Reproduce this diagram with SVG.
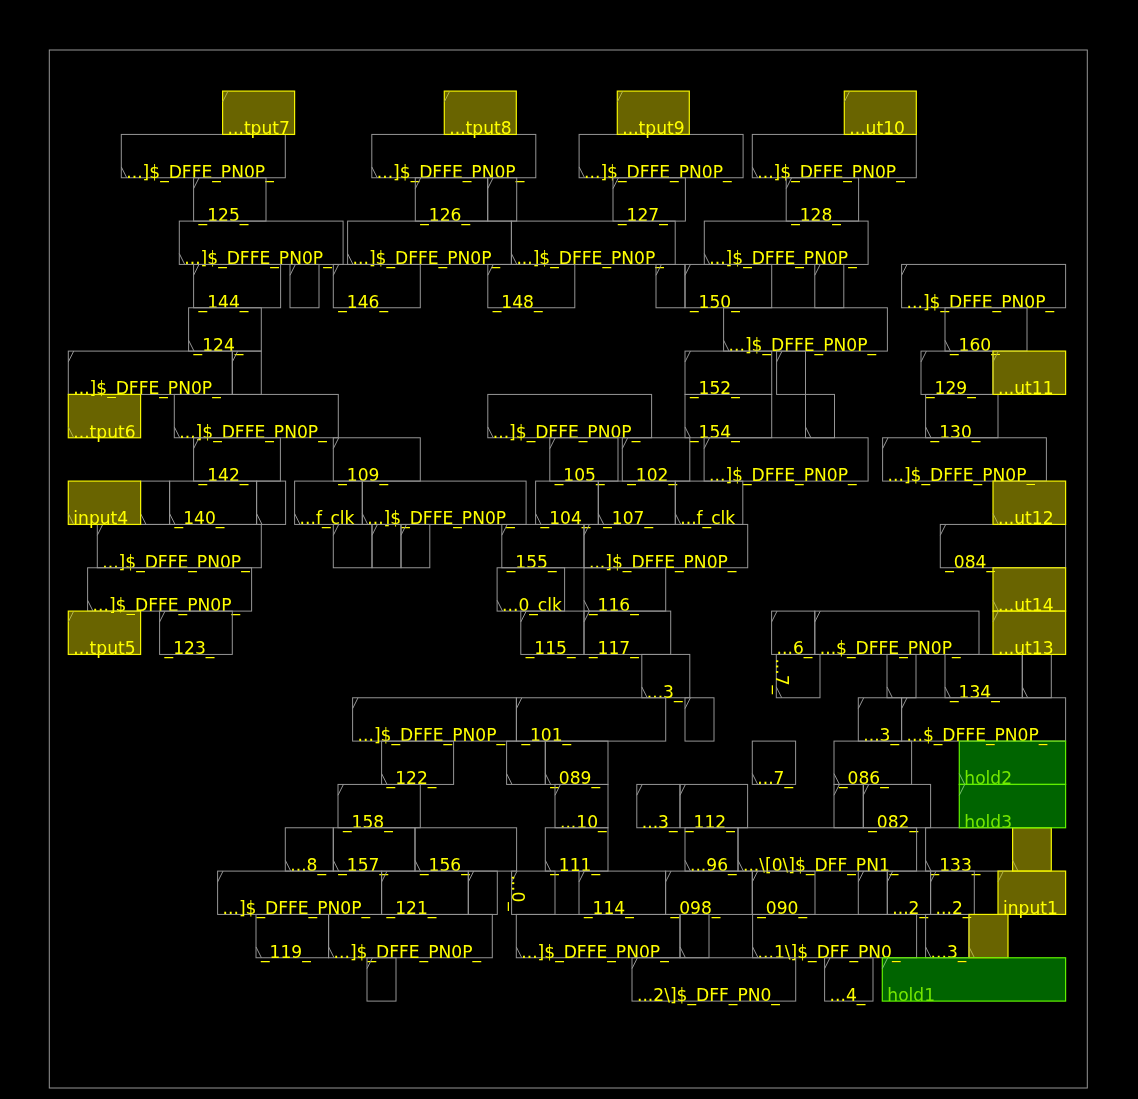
<svg xmlns="http://www.w3.org/2000/svg" width="1138" height="1099" viewBox="0 0 1138 1099">
<style>
.n{stroke:#959595;fill:none}
.y{stroke:#f4f400;fill:none;stroke-width:1.2}
.g{stroke:#5ff000;fill:none;stroke-width:1.2}
.fy{fill:#696400;stroke:none;mix-blend-mode:lighten}
.fg{fill:#006400;stroke:none;mix-blend-mode:lighten}
.y use{stroke:#b4b44c;stroke-width:1}
.g use{stroke:#7ac070;stroke-width:1}
text{fill:#ff0;stroke:none;font-family:"DejaVu Sans",sans-serif;font-size:17.1px}
.g text{fill:#74e800}
</style>
<defs>
<path id="up" d="M0 10.83L5.42 0"/>
<path id="dn" d="M0 32.5L5.42 43.33"/>
</defs>
<rect width="1138" height="1099" fill="#000"/>
<rect id="die" class="n" x="49.3" y="50" width="1038" height="1038"/>
<g id="cells" transform="translate(0.3,0.4)">
<g class="n" id="u1" transform="translate(121,134.03)"><rect width="164" height="43.33"/><use href="#dn"/><text x="5" y="43.3">...]$_DFFE_PN0P_</text></g>
<g class="n" id="u2" transform="translate(371.5,134.03)"><rect width="164" height="43.33"/><use href="#dn"/><text x="5" y="43.3">...]$_DFFE_PN0P_</text></g>
<g class="n" id="u3" transform="translate(578.8,134.03)"><rect width="164" height="43.33"/><use href="#dn"/><text x="5" y="43.3">...]$_DFFE_PN0P_</text></g>
<g class="n" id="u4" transform="translate(752,134.03)"><rect width="164" height="43.33"/><use href="#dn"/><text x="5" y="43.3">...]$_DFFE_PN0P_</text></g>
<g class="n" id="c125" transform="translate(193.3,177.37)"><rect width="72.4" height="43.33"/><use href="#up"/><text x="5" y="43.3">_125_</text></g>
<g class="n" id="c126" transform="translate(415,177.37)"><rect width="72.4" height="43.33"/><use href="#up"/><text x="5" y="43.3">_126_</text></g>
<g class="n" id="e1" transform="translate(487.4,177.37)"><rect width="29" height="43.33"/><use href="#up"/></g>
<g class="n" id="c127" transform="translate(612.7,177.37)"><rect width="72.4" height="43.33"/><use href="#up"/><text x="5" y="43.3">_127_</text></g>
<g class="n" id="c128" transform="translate(785.9,177.37)"><rect width="72.4" height="43.33"/><use href="#up"/><text x="5" y="43.3">_128_</text></g>
<g class="n" id="u5" transform="translate(179,220.7)"><rect width="163.8" height="43.33"/><use href="#dn"/><text x="5" y="43.3">...]$_DFFE_PN0P_</text></g>
<g class="n" id="u6" transform="translate(347.3,220.7)"><rect width="163.8" height="43.33"/><use href="#dn"/><text x="5" y="43.3">...]$_DFFE_PN0P_</text></g>
<g class="n" id="u7" transform="translate(511.1,220.7)"><rect width="163.8" height="43.33"/><use href="#dn"/><text x="5" y="43.3">...]$_DFFE_PN0P_</text></g>
<g class="n" id="u8" transform="translate(704,220.7)"><rect width="163.8" height="43.33"/><use href="#dn"/><text x="5" y="43.3">...]$_DFFE_PN0P_</text></g>
<g class="n" id="c144" transform="translate(193.3,264.03)"><rect width="87" height="43.33"/><use href="#up"/><text x="5" y="43.3">_144_</text></g>
<g class="n" id="e2" transform="translate(289.7,264.03)"><rect width="29" height="43.33"/><use href="#up"/></g>
<g class="n" id="c146" transform="translate(333,264.03)"><rect width="87" height="43.33"/><use href="#up"/><text x="5" y="43.3">_146_</text></g>
<g class="n" id="c148" transform="translate(487.5,264.03)"><rect width="87" height="43.33"/><use href="#up"/><text x="5" y="43.3">_148_</text></g>
<g class="n" id="e3" transform="translate(655.7,264.03)"><rect width="29" height="43.33"/><use href="#up"/></g>
<g class="n" id="c150" transform="translate(684.7,264.03)"><rect width="86.7" height="43.33"/><use href="#up"/><text x="5" y="43.3">_150_</text></g>
<g class="n" id="e4" transform="translate(814.5,264.03)"><rect width="29" height="43.33"/><use href="#up"/></g>
<g class="n" id="u9" transform="translate(901.3,264.03)"><rect width="164" height="43.33"/><use href="#up"/><text x="5" y="43.3">...]$_DFFE_PN0P_</text></g>
<g class="n" id="c124" transform="translate(188.3,307.37)"><rect width="72.7" height="43.33"/><use href="#dn"/><text x="5" y="43.3">_124_</text></g>
<g class="n" id="u10" transform="translate(723.3,307.37)"><rect width="163.8" height="43.33"/><use href="#dn"/><text x="5" y="43.3">...]$_DFFE_PN0P_</text></g>
<g class="n" id="c160" transform="translate(944.7,307.37)"><rect width="82" height="43.33"/><use href="#dn"/><text x="5" y="43.3">_160_</text></g>
<g class="n" id="u11" transform="translate(68,350.7)"><rect width="164" height="43.33"/><use href="#up"/><text x="5" y="43.3">...]$_DFFE_PN0P_</text></g>
<g class="n" id="e5" transform="translate(232,350.7)"><rect width="29" height="43.33"/><use href="#up"/></g>
<g class="n" id="c152" transform="translate(684.7,350.7)"><rect width="86.7" height="43.33"/><use href="#up"/><text x="5" y="43.3">_152_</text></g>
<g class="n" id="e6" transform="translate(776.3,350.7)"><rect width="28.9" height="43.33"/><use href="#up"/></g>
<g class="n" id="c129" transform="translate(920.7,350.7)"><rect width="72" height="43.33"/><use href="#up"/><text x="5" y="43.3">_129_</text></g>
<g class="n" id="u12" transform="translate(174,394.03)"><rect width="164" height="43.33"/><use href="#dn"/><text x="5" y="43.3">...]$_DFFE_PN0P_</text></g>
<g class="n" id="u13" transform="translate(487.5,394.03)"><rect width="163.8" height="43.33"/><use href="#dn"/><text x="5" y="43.3">...]$_DFFE_PN0P_</text></g>
<g class="n" id="c154" transform="translate(684.7,394.03)"><rect width="86.7" height="43.33"/><use href="#dn"/><text x="5" y="43.3">_154_</text></g>
<g class="n" id="e7" transform="translate(805.2,394.03)"><rect width="29" height="43.33"/><use href="#dn"/></g>
<g class="n" id="c130" transform="translate(925.3,394.03)"><rect width="72.4" height="43.33"/><use href="#dn"/><text x="5" y="43.3">_130_</text></g>
<g class="n" id="c142" transform="translate(193.3,437.37)"><rect width="86.8" height="43.33"/><use href="#up"/><text x="5" y="43.3">_142_</text></g>
<g class="n" id="c109" transform="translate(333,437.37)"><rect width="87" height="43.33"/><use href="#up"/><text x="5" y="43.3">_109_</text></g>
<g class="n" id="c105" transform="translate(549.5,437.37)"><rect width="68.2" height="43.33"/><use href="#up"/><text x="5" y="43.3">_105_</text></g>
<g class="n" id="c102" transform="translate(622,437.37)"><rect width="67.5" height="43.33"/><use href="#up"/><text x="5" y="43.3">_102_</text></g>
<g class="n" id="u14" transform="translate(703.8,437.37)"><rect width="164" height="43.33"/><use href="#up"/><text x="5" y="43.3">...]$_DFFE_PN0P_</text></g>
<g class="n" id="u15" transform="translate(882.3,437.37)"><rect width="163.8" height="43.33"/><use href="#up"/><text x="5" y="43.3">...]$_DFFE_PN0P_</text></g>
<g class="n" id="e8" transform="translate(140.3,480.7)"><rect width="29" height="43.33"/><use href="#dn"/></g>
<g class="n" id="c140" transform="translate(169.3,480.7)"><rect width="87" height="43.33"/><use href="#dn"/><text x="5" y="43.3">_140_</text></g>
<g class="n" id="e9" transform="translate(256.3,480.7)"><rect width="29" height="43.33"/><use href="#dn"/></g>
<g class="n" id="k1" transform="translate(294.3,480.7)"><rect width="67.7" height="43.33"/><use href="#dn"/><text x="5" y="43.3">...f_clk</text></g>
<g class="n" id="u16" transform="translate(362,480.7)"><rect width="163.8" height="43.33"/><use href="#dn"/><text x="5" y="43.3">...]$_DFFE_PN0P_</text></g>
<g class="n" id="c104" transform="translate(535.3,480.7)"><rect width="62.7" height="43.33"/><use href="#dn"/><text x="5" y="43.3">_104_</text></g>
<g class="n" id="c107" transform="translate(598,480.7)"><rect width="77" height="43.33"/><use href="#dn"/><text x="5" y="43.3">_107_</text></g>
<g class="n" id="k2" transform="translate(675,480.7)"><rect width="67.5" height="43.33"/><use href="#dn"/><text x="5" y="43.3">...f_clk</text></g>
<g class="n" id="u17" transform="translate(97,524.03)"><rect width="164" height="43.33"/><use href="#up"/><text x="5" y="43.3">...]$_DFFE_PN0P_</text></g>
<g class="n" id="e10" transform="translate(333,524.03)"><rect width="38.7" height="43.33"/><use href="#up"/></g>
<g class="n" id="e11" transform="translate(371.7,524.03)"><rect width="29" height="43.33"/><use href="#up"/></g>
<g class="n" id="e12" transform="translate(400.7,524.03)"><rect width="28.8" height="43.33"/><use href="#up"/></g>
<g class="n" id="c155" transform="translate(501.5,524.03)"><rect width="82.2" height="43.33"/><use href="#up"/><text x="5" y="43.3">_155_</text></g>
<g class="n" id="u18" transform="translate(583.7,524.03)"><rect width="163.7" height="43.33"/><use href="#up"/><text x="5" y="43.3">...]$_DFFE_PN0P_</text></g>
<g class="n" id="c084" transform="translate(940,524.03)"><rect width="125.3" height="43.33"/><use href="#up"/><text x="5" y="43.3">_084_</text></g>
<g class="n" id="u19" transform="translate(87.3,567.37)"><rect width="164" height="43.33"/><use href="#dn"/><text x="5" y="43.3">...]$_DFFE_PN0P_</text></g>
<g class="n" id="k3" transform="translate(496.8,567.37)"><rect width="67.5" height="43.33"/><use href="#dn"/><text x="5" y="43.3">...0_clk</text></g>
<g class="n" id="c116" transform="translate(583.7,567.37)"><rect width="81.7" height="43.33"/><use href="#dn"/><text x="5" y="43.3">_116_</text></g>
<g class="n" id="c123" transform="translate(159.3,610.7)"><rect width="72.7" height="43.33"/><use href="#up"/><text x="5" y="43.3">_123_</text></g>
<g class="n" id="c115" transform="translate(520.5,610.7)"><rect width="63.2" height="43.33"/><use href="#up"/><text x="5" y="43.3">_115_</text></g>
<g class="n" id="c117" transform="translate(583.7,610.7)"><rect width="86.7" height="43.33"/><use href="#up"/><text x="5" y="43.3">_117_</text></g>
<g class="n" id="d6" transform="translate(771.3,610.7)"><rect width="43.2" height="43.33"/><use href="#up"/><text x="5" y="43.3">...6_</text></g>
<g class="n" id="u20" transform="translate(814.5,610.7)"><rect width="164.2" height="43.33"/><use href="#up"/><text x="5" y="43.3">...$_DFFE_PN0P_</text></g>
<g class="n" id="d3a" transform="translate(641.5,654.03)"><rect width="48" height="43.33"/><use href="#dn"/><text x="5" y="43.3">...3_</text></g>
<g class="n" id="d7a" transform="translate(776,654.03)"><rect width="43.7" height="43.33"/><use href="#dn"/><text transform="translate(0,4) rotate(90)">...7_</text></g>
<g class="n" id="e13" transform="translate(886.7,654.03)"><rect width="29" height="43.33"/><use href="#dn"/></g>
<g class="n" id="c134" transform="translate(944.7,654.03)"><rect width="77.3" height="43.33"/><use href="#dn"/><text x="5" y="43.3">_134_</text></g>
<g class="n" id="e14" transform="translate(1022,654.03)"><rect width="29" height="43.33"/><use href="#dn"/></g>
<g class="n" id="u21" transform="translate(352.3,697.37)"><rect width="163.8" height="43.33"/><use href="#up"/><text x="5" y="43.3">...]$_DFFE_PN0P_</text></g>
<g class="n" id="c101" transform="translate(516.1,697.37)"><rect width="149.3" height="43.33"/><use href="#up"/><text x="5" y="43.3">_101_</text></g>
<g class="n" id="e15" transform="translate(684.7,697.37)"><rect width="29" height="43.33"/><use href="#up"/></g>
<g class="n" id="d3b" transform="translate(858,697.37)"><rect width="43.3" height="43.33"/><use href="#up"/><text x="5" y="43.3">...3_</text></g>
<g class="n" id="u22" transform="translate(901.3,697.37)"><rect width="164" height="43.33"/><use href="#up"/><text x="5" y="43.3">...$_DFFE_PN0P_</text></g>
<g class="n" id="c122" transform="translate(381.3,740.7)"><rect width="72" height="43.33"/><use href="#dn"/><text x="5" y="43.3">_122_</text></g>
<g class="n" id="e16" transform="translate(506.3,740.7)"><rect width="38.7" height="43.33"/><use href="#dn"/></g>
<g class="n" id="c089" transform="translate(545,740.7)"><rect width="62.7" height="43.33"/><use href="#dn"/><text x="5" y="43.3">_089_</text></g>
<g class="n" id="d7b" transform="translate(752,740.7)"><rect width="43.3" height="43.33"/><use href="#dn"/><text x="5" y="43.3">...7_</text></g>
<g class="n" id="c086" transform="translate(833.7,740.7)"><rect width="77.6" height="43.33"/><use href="#dn"/><text x="5" y="43.3">_086_</text></g>
<g class="n" id="c158" transform="translate(337.7,784.03)"><rect width="82.3" height="43.33"/><use href="#up"/><text x="5" y="43.3">_158_</text></g>
<g class="n" id="d10" transform="translate(554.7,784.03)"><rect width="53" height="43.33"/><use href="#up"/><text x="5" y="43.3">...10_</text></g>
<g class="n" id="d3c" transform="translate(636.5,784.03)"><rect width="43.2" height="43.33"/><use href="#up"/><text x="5" y="43.3">...3_</text></g>
<g class="n" id="c112" transform="translate(679.7,784.03)"><rect width="67.6" height="43.33"/><use href="#up"/><text x="5" y="43.3">_112_</text></g>
<g class="n" id="e17" transform="translate(833.7,784.03)"><rect width="29.3" height="43.33"/><use href="#up"/></g>
<g class="n" id="c082" transform="translate(863,784.03)"><rect width="67.3" height="43.33"/><use href="#up"/><text x="5" y="43.3">_082_</text></g>
<g class="n" id="d8" transform="translate(285,827.37)"><rect width="48" height="43.33"/><use href="#dn"/><text x="5" y="43.3">...8_</text></g>
<g class="n" id="c157" transform="translate(333,827.37)"><rect width="81.7" height="43.33"/><use href="#dn"/><text x="5" y="43.3">_157_</text></g>
<g class="n" id="c156" transform="translate(414.7,827.37)"><rect width="101.6" height="43.33"/><use href="#dn"/><text x="5" y="43.3">_156_</text></g>
<g class="n" id="c111" transform="translate(545,827.37)"><rect width="62.7" height="43.33"/><use href="#dn"/><text x="5" y="43.3">_111_</text></g>
<g class="n" id="d96" transform="translate(684.7,827.37)"><rect width="53" height="43.33"/><use href="#dn"/><text x="5" y="43.3">...96_</text></g>
<g class="n" id="f0" transform="translate(737.7,827.37)"><rect width="178.6" height="43.33"/><use href="#dn"/><text x="5" y="43.3">...\[0\]$_DFF_PN1_</text></g>
<g class="n" id="c133" transform="translate(925.3,827.37)"><rect width="87" height="43.33"/><use href="#dn"/><text x="5" y="43.3">_133_</text></g>
<g class="n" id="u23" transform="translate(217.3,870.7)"><rect width="164" height="43.33"/><use href="#up"/><text x="5" y="43.3">...]$_DFFE_PN0P_</text></g>
<g class="n" id="c121" transform="translate(381.3,870.7)"><rect width="86.7" height="43.33"/><use href="#up"/><text x="5" y="43.3">_121_</text></g>
<g class="n" id="e18" transform="translate(468,870.7)"><rect width="29" height="43.33"/><use href="#up"/></g>
<g class="n" id="d0" transform="translate(511.3,870.7)"><rect width="43.4" height="43.33"/><use href="#up"/><text transform="translate(0,4) rotate(90)">...0_</text></g>
<g class="n" id="c114" transform="translate(578.7,870.7)"><rect width="86.6" height="43.33"/><use href="#up"/><text x="5" y="43.3">_114_</text></g>
<g class="n" id="c098" transform="translate(665.3,870.7)"><rect width="86.7" height="43.33"/><use href="#up"/><text x="5" y="43.3">_098_</text></g>
<g class="n" id="c090" transform="translate(752,870.7)"><rect width="62.7" height="43.33"/><use href="#up"/><text x="5" y="43.3">_090_</text></g>
<g class="n" id="e19" transform="translate(858,870.7)"><rect width="29" height="43.33"/><use href="#up"/></g>
<g class="n" id="d2a" transform="translate(887,870.7)"><rect width="43.3" height="43.33"/><use href="#up"/><text x="5" y="43.3">...2_</text></g>
<g class="n" id="d2b" transform="translate(930.3,870.7)"><rect width="43.7" height="43.33"/><use href="#up"/><text x="5" y="43.3">...2_</text></g>
<g class="n" id="c119" transform="translate(255.7,914.03)"><rect width="72.6" height="43.33"/><use href="#dn"/><text x="5" y="43.3">_119_</text></g>
<g class="n" id="u24" transform="translate(328.3,914.03)"><rect width="163.7" height="43.33"/><use href="#dn"/><text x="5" y="43.3">...]$_DFFE_PN0P_</text></g>
<g class="n" id="u25" transform="translate(516,914.03)"><rect width="163.7" height="43.33"/><use href="#dn"/><text x="5" y="43.3">...]$_DFFE_PN0P_</text></g>
<g class="n" id="e20" transform="translate(679.7,914.03)"><rect width="29" height="43.33"/><use href="#dn"/></g>
<g class="n" id="f1" transform="translate(752.3,914.03)"><rect width="164" height="43.33"/><use href="#dn"/><text x="5" y="43.3">...1\]$_DFF_PN0_</text></g>
<g class="n" id="d3d" transform="translate(925.3,914.03)"><rect width="43.4" height="43.33"/><use href="#dn"/><text x="5" y="43.3">...3_</text></g>
<g class="n" id="e21" transform="translate(366.7,957.37)"><rect width="29" height="43.33"/><use href="#up"/></g>
<g class="n" id="f2" transform="translate(631.7,957.37)"><rect width="163.7" height="43.33"/><use href="#up"/><text x="5" y="43.3">...2\]$_DFF_PN0_</text></g>
<g class="n" id="d4" transform="translate(824.3,957.37)"><rect width="48.4" height="43.33"/><use href="#up"/><text x="5" y="43.3">...4_</text></g>
<g class="y" id="output7"><rect class="fy" x="222.3" y="90.7" width="72" height="43.33"/><rect x="222.3" y="90.7" width="72" height="43.33"/><use href="#up" x="222.3" y="90.7"/><text x="227.3" y="134">...tput7</text></g>
<g class="y" id="output8"><rect class="fy" x="444" y="90.7" width="72" height="43.33"/><rect x="444" y="90.7" width="72" height="43.33"/><use href="#up" x="444" y="90.7"/><text x="449" y="134">...tput8</text></g>
<g class="y" id="output9"><rect class="fy" x="617" y="90.7" width="72" height="43.33"/><rect x="617" y="90.7" width="72" height="43.33"/><use href="#up" x="617" y="90.7"/><text x="622" y="134">...tput9</text></g>
<g class="y" id="output10"><rect class="fy" x="844" y="90.7" width="72" height="43.33"/><rect x="844" y="90.7" width="72" height="43.33"/><use href="#up" x="844" y="90.7"/><text x="849" y="134">...ut10</text></g>
<g class="y" id="output11"><rect class="fy" x="992.7" y="350.7" width="72.6" height="43.33"/><rect x="992.7" y="350.7" width="72.6" height="43.33"/><use href="#up" x="992.7" y="350.7"/><text x="997.7" y="394">...ut11</text></g>
<g class="y" id="output6"><rect class="fy" x="68" y="394.03" width="72.3" height="43.33"/><rect x="68" y="394.03" width="72.3" height="43.33"/><use href="#dn" x="68" y="394.03"/><text x="73" y="437.33">...tput6</text></g>
<g class="y" id="input4"><rect class="fy" x="68" y="480.7" width="72.3" height="43.33"/><rect x="68" y="480.7" width="72.3" height="43.33"/><use href="#dn" x="68" y="480.7"/><text x="73" y="524">input4</text></g>
<g class="y" id="output12"><rect class="fy" x="992.7" y="480.7" width="72.6" height="43.33"/><rect x="992.7" y="480.7" width="72.6" height="43.33"/><use href="#dn" x="992.7" y="480.7"/><text x="997.7" y="524">...ut12</text></g>
<g class="y" id="output14"><rect class="fy" x="992.7" y="567.37" width="72.6" height="43.33"/><rect x="992.7" y="567.37" width="72.6" height="43.33"/><use href="#dn" x="992.7" y="567.37"/><text x="997.7" y="610.67">...ut14</text></g>
<g class="y" id="output5"><rect class="fy" x="68" y="610.7" width="72.3" height="43.33"/><rect x="68" y="610.7" width="72.3" height="43.33"/><use href="#up" x="68" y="610.7"/><text x="73" y="654">...tput5</text></g>
<g class="y" id="output13"><rect class="fy" x="992.7" y="610.7" width="72.6" height="43.33"/><rect x="992.7" y="610.7" width="72.6" height="43.33"/><use href="#up" x="992.7" y="610.7"/><text x="997.7" y="654">...ut13</text></g>
<g class="y" id="buf1"><rect class="fy" x="1012.3" y="827.37" width="38.7" height="43.33"/><rect x="1012.3" y="827.37" width="38.7" height="43.33"/><use href="#dn" x="1012.3" y="827.37"/></g>
<g class="y" id="input1"><rect class="fy" x="997.7" y="870.7" width="67.6" height="43.33"/><rect x="997.7" y="870.7" width="67.6" height="43.33"/><use href="#up" x="997.7" y="870.7"/><text x="1002.7" y="914">input1</text></g>
<g class="y" id="buf2"><rect class="fy" x="968.7" y="914.03" width="39" height="43.33"/><rect x="968.7" y="914.03" width="39" height="43.33"/><use href="#dn" x="968.7" y="914.03"/></g>
<g class="g" id="hold2"><rect class="fg" x="959" y="740.7" width="106.3" height="43.33"/><rect x="959" y="740.7" width="106.3" height="43.33"/><use href="#dn" x="959" y="740.7"/><text x="964" y="784">hold2</text></g>
<g class="g" id="hold3"><rect class="fg" x="959" y="784.03" width="106.3" height="43.33"/><rect x="959" y="784.03" width="106.3" height="43.33"/><use href="#up" x="959" y="784.03"/><text x="964" y="827.33">hold3</text></g>
<g class="g" id="hold1"><rect class="fg" x="882" y="957.37" width="183.3" height="43.33"/><rect x="882" y="957.37" width="183.3" height="43.33"/><use href="#up" x="882" y="957.37"/><text x="887" y="1000.67">hold1</text></g>
</g>
</svg>
